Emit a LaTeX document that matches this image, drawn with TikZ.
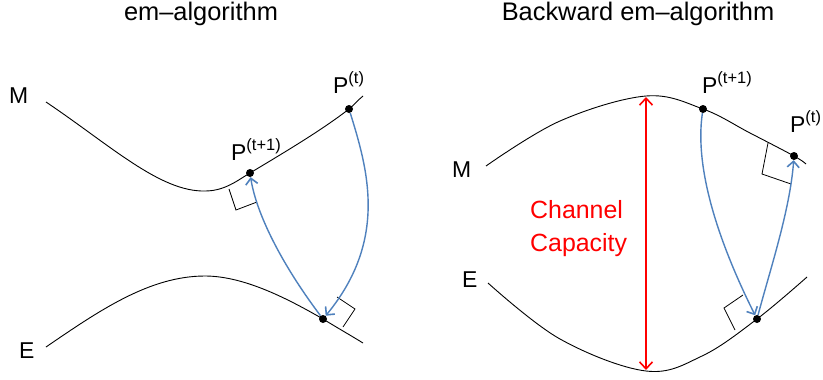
\documentclass[tikz,border=0pt]{standalone}
\usepackage{fontspec}
\setmainfont{Liberation Sans}
\usetikzlibrary{arrows.meta}
\definecolor{arrowblue}{RGB}{79,129,189}
\newcommand\psup[1]{\raisebox{9.5bp}{\fontsize{16.5}{16.5}\selectfont #1}}
\begin{document}
\begin{tikzpicture}[x=1bp,y=-1bp,
  curve/.style={black, line width=0.9bp},
  rmark/.style={black, line width=0.8bp},
  iter/.style={arrowblue, line width=1.4bp, -{Straight Barb[length=6bp,width=12bp,line width=1.6bp]}},
  dot/.style={circle, fill=black, inner sep=0pt, minimum size=8bp},
  lbl/.style={anchor=base west, inner sep=0pt, font=\fontsize{23}{23}\selectfont},
  plbl/.style={anchor=base west, inner sep=0pt, font=\fontsize{23}{23}\selectfont},
  ttl/.style={anchor=base, inner sep=0pt, font=\fontsize{25.5}{25.5}\selectfont},
  captext/.style={anchor=base west, inner sep=0pt, red, font=\fontsize{25}{25}\selectfont},
  ]
\clip (0,0) rectangle (823,379);
\path[fill=white] (0,0) rectangle (823,379);

% ---------- left panel ----------
\node[ttl] (t1) at (201,20) {em–algorithm};
\node[lbl] (m1) at (9,103) {M};
\node[lbl] (e1l) at (19,358) {E};

\draw[curve] (46,102) .. controls (110,145) and (160,192) .. (205,191)
  .. controls (225,191) and (238,180) .. (250,173)
  .. controls (285,152) and (322,130) .. (349,109)
  .. controls (354,105) and (358,100) .. (363,96);
\draw[curve] (46,347) .. controls (100,310) and (150,276) .. (205,276)
  .. controls (245,276) and (290,300) .. (323,319)
  .. controls (336,327) and (350,335) .. (363,343);

\node[dot] (pt1) at (349,109) {};
\node[dot] (pt2) at (250,173) {};
\node[dot] (q1) at (323,319) {};

\node[plbl] (lpt1) at (333,93) {P\psup{(t)}};
\node[plbl] (lpt2) at (231,160) {P\psup{(t+1)}};

\draw[rmark] (229,189) -- (236,210) -- (257,202);
\draw[rmark] (337,297) -- (355,309) -- (343,327);

\draw[iter] (pt1) .. controls (368,170) and (388,240) .. (q1);
\draw[iter] (q1) .. controls (280,262) and (256,212) .. (pt2);

% ---------- right panel ----------
\node[ttl] (t2) at (638,20) {Backward em–algorithm};
\node[lbl] (m2) at (452,177) {M};
\node[lbl] (e2l) at (462,287) {E};

\draw[curve] plot[smooth, tension=0.6] coordinates {(486,166) (560,121) (646,96) (703,109) (750,133) (794,156) (806,164)};
\draw[curve] plot[smooth, tension=0.6] coordinates {(488,283) (560,339) (646,371) (702,356) (757,319) (807,277)};

\node[dot] (rp1) at (703,109) {};
\node[dot] (rp0) at (794,156) {};
\node[dot] (q2) at (757,319) {};

\node[plbl] (lrp1) at (702,93) {P\psup{(t+1)}};
\node[plbl] (lrp0) at (790,132) {P\psup{(t)}};

\draw[rmark] (768,143) -- (762,174) -- (791,184);
\draw[rmark] (743,295) -- (724,308) -- (735,330);

\draw[iter] (rp1) .. controls (694,170) and (720,245) .. (q2);
\draw[iter] (q2) .. controls (770,270) and (790,210) .. (rp0);

\coordinate (ct) at (646,97);
\coordinate (cb) at (646,370);
\draw[red, line width=1.4bp, {Straight Barb[length=7bp,width=13bp,line width=1.6bp]}-{Straight Barb[length=7bp,width=13bp,line width=1.6bp]}] (ct) -- (cb);

\node[captext] (c1) at (530,218) {Channel};
\node[captext] (c2) at (530,251) {Capacity};
\end{tikzpicture}
\end{document}
